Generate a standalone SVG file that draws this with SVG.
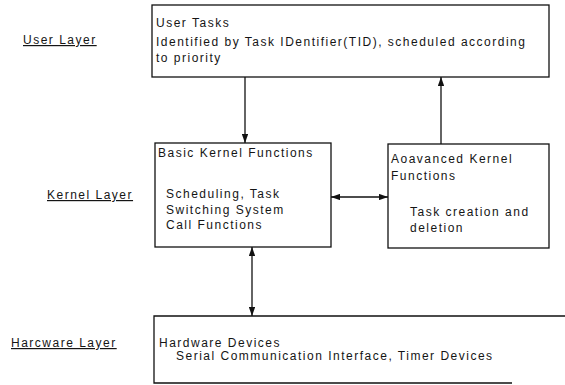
<svg xmlns="http://www.w3.org/2000/svg" width="565" height="385" viewBox="0 0 565 385">
<style>
  text { font-family: "Liberation Sans", Arial, sans-serif; font-size: 12px; fill: #151515; letter-spacing: 1.5px; }
  .box { fill: #ffffff; stroke: #111; stroke-width: 1.3; }
  .lbl { text-decoration: underline; }
  .conn { stroke: #111; stroke-width: 1.3; fill: none; }
</style>
<defs>
  <marker id="ah" viewBox="0 0 10 7" markerWidth="9" markerHeight="6.5" refX="10" refY="3.5" orient="auto-start-reverse" markerUnits="userSpaceOnUse">
    <path d="M0,0 L10,3.5 L0,7 z" fill="#111"/>
  </marker>
</defs>
<rect width="565" height="385" fill="#ffffff"/>

<g id="labels">
  <text class="lbl" x="23" y="44">User Layer</text>
  <text class="lbl" x="47" y="199">Kernel Layer</text>
  <text class="lbl" x="11" y="347">Harcware Layer</text>
</g>

<g id="user-tasks">
  <rect class="box" x="152" y="5" width="397" height="72"/>
  <text x="156" y="27">User Tasks</text>
  <text x="156" y="46">Identified by Task IDentifier(TID), scheduled according</text>
  <text x="156" y="62">to priority</text>
</g>

<g id="basic-kernel">
  <rect class="box" x="155" y="143" width="176" height="104"/>
  <text x="158" y="157">Basic Kernel Functions</text>
  <text x="166" y="198">Scheduling, Task</text>
  <text x="166" y="214">Switching  System</text>
  <text x="166" y="229">Call Functions</text>
</g>

<g id="advanced-kernel">
  <rect class="box" x="388" y="144" width="161" height="104"/>
  <text x="391" y="163">Aoavanced Kernel</text>
  <text x="391" y="180">Functions</text>
  <text x="410" y="216">Task creation and</text>
  <text x="410" y="232">deletion</text>
</g>

<g id="hardware-devices">
  <path class="box" d="M565,316 H154 V383 H512" fill="none"/>
  <text x="159" y="347">Hardware Devices</text>
  <text x="176" y="360">Serial Communication Interface, Timer Devices</text>
</g>

<g id="connectors">
  <line class="conn" x1="245" y1="77" x2="245" y2="143" marker-end="url(#ah)"/>
  <line class="conn" x1="441" y1="144" x2="441" y2="77" marker-end="url(#ah)"/>
  <line class="conn" x1="331" y1="197" x2="388" y2="197" marker-start="url(#ah)" marker-end="url(#ah)"/>
  <line class="conn" x1="252" y1="247" x2="252" y2="316" marker-start="url(#ah)" marker-end="url(#ah)"/>
</g>
</svg>
